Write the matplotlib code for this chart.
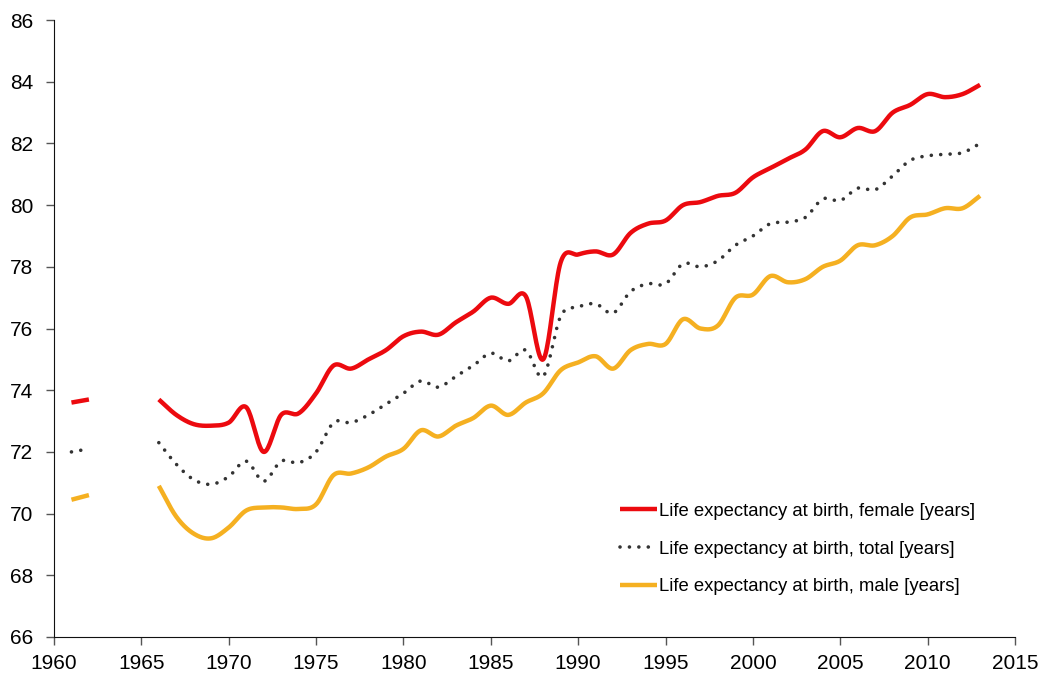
#!/usr/bin/env python3

import numpy as np
import matplotlib.pyplot as plt

plt.rcParams["font.family"] = ["Liberation Sans", "DejaVu Sans"]

YEARS_EARLY = [1961, 1962]
YEARS = list(range(1966, 2014))

FEMALE_EARLY = [73.6, 73.7]
FEMALE = [73.7, 73.2, 72.9, 72.85, 72.95, 73.45, 72.0, 73.2, 73.25, 73.9,
          74.8, 74.7, 75.0, 75.3, 75.75, 75.9, 75.8, 76.2, 76.55, 77.0,
          76.8, 77.05, 75.0, 78.15, 78.4, 78.5, 78.4, 79.1, 79.4, 79.5,
          80.0, 80.1, 80.3, 80.4, 80.9, 81.2, 81.5, 81.8, 82.4, 82.2,
          82.5, 82.4, 83.0, 83.25, 83.6, 83.5, 83.6, 83.9]

TOTAL_EARLY = [72.0, 72.1]
TOTAL = [72.3, 71.6, 71.1, 70.95, 71.2, 71.7, 71.05, 71.7, 71.65, 72.0,
         72.95, 72.95, 73.2, 73.55, 73.9, 74.3, 74.1, 74.45, 74.8, 75.2,
         74.95, 75.3, 74.45, 76.4, 76.7, 76.8, 76.5, 77.2, 77.45, 77.45,
         78.1, 78.0, 78.2, 78.7, 79.0, 79.4, 79.45, 79.6, 80.2, 80.15,
         80.55, 80.5, 80.95, 81.45, 81.6, 81.65, 81.7, 82.0]

MALE_EARLY = [70.45, 70.6]
MALE = [70.9, 69.9, 69.35, 69.2, 69.55, 70.1, 70.2, 70.2, 70.15, 70.3,
        71.25, 71.3, 71.5, 71.85, 72.1, 72.7, 72.5, 72.85, 73.1, 73.5,
        73.2, 73.6, 73.9, 74.65, 74.9, 75.1, 74.7, 75.3, 75.5, 75.5,
        76.3, 76.0, 76.1, 77.0, 77.1, 77.7, 77.5, 77.6, 78.0, 78.2,
        78.7, 78.7, 79.0, 79.6, 79.7, 79.9, 79.9, 80.3]

LABELS = [
    "Life expectancy at birth, female [years]",
    "Life expectancy at birth, total [years]",
    "Life expectancy at birth, male [years]",
]


def smooth(xs, ys, steps=20):
    # Catmull-Rom style curve through the points, like a spreadsheet "smoothed line"
    x = np.asarray(xs, float)
    y = np.asarray(ys, float)
    if len(x) < 3:
        return x, y
    px = np.concatenate([[2 * x[0] - x[1]], x, [2 * x[-1] - x[-2]]])
    py = np.concatenate([[2 * y[0] - y[1]], y, [2 * y[-1] - y[-2]]])
    t = np.linspace(0, 1, steps, endpoint=False)
    out_x, out_y = [], []
    for i in range(1, len(px) - 2):
        for p, out in ((px, out_x), (py, out_y)):
            p0, p1, p2, p3 = p[i - 1], p[i], p[i + 1], p[i + 2]
            c1 = p1 + (p2 - p0) / 6
            c2 = p2 - (p3 - p1) / 6
            out.append((1 - t) ** 3 * p1 + 3 * (1 - t) ** 2 * t * c1
                       + 3 * (1 - t) * t ** 2 * c2 + t ** 3 * p2)
    out_x.append([x[-1]])
    out_y.append([y[-1]])
    return np.concatenate(out_x), np.concatenate(out_y)


fig = plt.figure(figsize=(10.42, 6.75), dpi=100)
ax = fig.add_axes([0.0518, 0.0563, 0.9223, 0.914])

styles = [
    dict(color="#EC0A0F", linewidth=3.2, solid_capstyle="butt"),
    dict(color="#333333", linewidth=2.6, linestyle=(0, (0.01, 2.6)),
         dash_capstyle="round"),
    dict(color="#F5B021", linewidth=3.2, solid_capstyle="butt"),
]
series = [(FEMALE_EARLY, FEMALE), (TOTAL_EARLY, TOTAL), (MALE_EARLY, MALE)]

for (early, late), style, label in zip(series, styles, LABELS):
    ex, ey = smooth(YEARS_EARLY, early)
    ax.plot(ex, ey, **style)
    lx, ly = smooth(YEARS, late)
    ax.plot(lx, ly, label=label, **style)

ax.set_xlim(1960, 2015)
ax.set_ylim(66, 86)
ax.set_xticks(range(1960, 2016, 5))
ax.set_yticks(range(66, 87, 2))
ax.tick_params(labelsize=15, length=6, width=1, direction="out", color="#555555")
ax.tick_params(axis="x", pad=6)
ax.tick_params(axis="y", pad=9)
for side in ("top", "right"):
    ax.spines[side].set_visible(False)
for side in ("left", "bottom"):
    ax.spines[side].set_color("#111111")

ax.legend(loc="center left", bbox_to_anchor=(0.581, 0.1426), frameon=False,
          fontsize=13.3, handlelength=2.0, handletextpad=0.15,
          labelspacing=1.12, borderaxespad=0)

fig.savefig("out.png", dpi=100)
